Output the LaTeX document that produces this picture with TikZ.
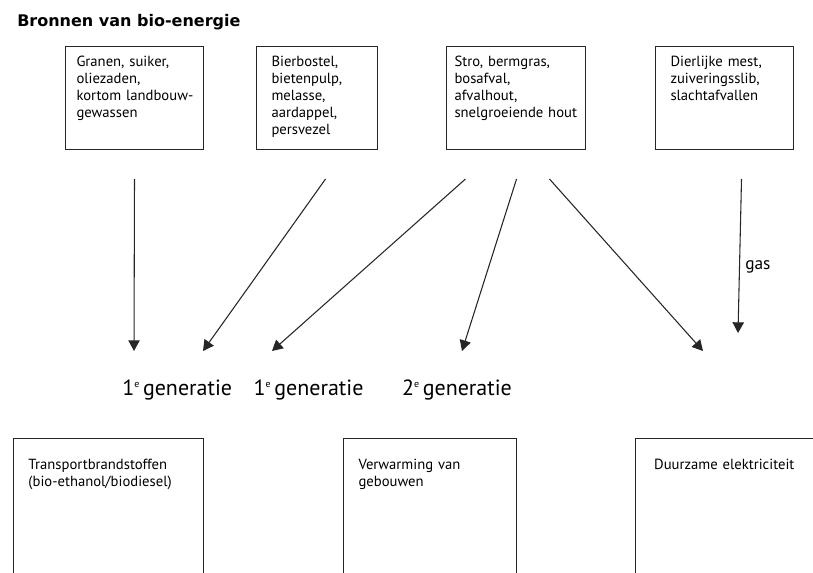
\documentclass[tikz,border=0pt]{standalone}
\usepackage{fontspec}
\setmainfont{PT Sans}
\newfontfamily\titlefont{DejaVu Sans}
\usetikzlibrary{positioning,arrows.meta}
\tikzset{
    srcbox/.style={
        draw=black!85,line width=.75pt,anchor=north west,align=left,
        font=\fontsize{11}{12.75}\selectfont,
        text height=8pt,text depth=55.25pt,inner ysep=7pt
    },
    usebox/.style={
        draw=black!85,line width=.75pt,align=left,
        font=\fontsize{11}{12.75}\selectfont,
        text height=8pt,text depth=71.5pt,inner ysep=15.25pt,inner xsep=11.25pt
    },
    genlabel/.style={
        font=\fontsize{16.5}{19}\selectfont,inner sep=0pt
    },
    flow/.style={
        ->,draw=black!85,line width=.8pt
    }
}
\newcommand{\gensup}{\raisebox{5.5pt}{\fontsize{7.5}{8}\selectfont e}}

\begin{document}
\begin{tikzpicture}[>={Triangle[length=8pt,width=8.5pt]}]
\clip (0,0) rectangle (609.75pt,-429pt);
\node[anchor=base west,inner sep=0pt,font=\titlefont\bfseries\fontsize{12}{14}\selectfont] (title) at (12.75pt,-20pt) {Bronnen van bio-energie};
% bronnen
\node[srcbox,text width=87pt,inner xsep=8.25pt] (granen) at (48.75pt,-34.5pt) {Granen, suiker,\\oliezaden,\\\mbox{kortom landbouw-}\\gewassen};
\node[srcbox,text width=68.25pt,inner xsep=11.25pt,right=39pt of granen] (bierbostel) {Bierbostel,\\bietenpulp,\\melasse,\\aardappel,\\persvezel};
\node[srcbox,text width=92.25pt,inner xsep=6pt,right=51pt of bierbostel] (stro) {Stro, bermgras,\\bosafval,\\afvalhout,\\\mbox{snelgroeiende hout}};
\node[srcbox,text width=81pt,inner xsep=11.25pt,right=51.75pt of stro] (mest) {Dierlijke mest,\\zuiveringsslib,\\slachtafvallen};
% toepassingen
\node[usebox,text width=120pt,anchor=north west] (transport) at (9.75pt,-328.5pt) {Transportbrandstoffen\\(bio-ethanol/biodiesel)};
\node[usebox,text width=107.25pt,right=104.25pt of transport] (verwarming) {Verwarming van\\gebouwen};
\node[usebox,text width=172pt,inner xsep=14pt,right=88.5pt of verwarming] (elektriciteit) {Duurzame elektriciteit};
% generaties
\node[genlabel,anchor=base west] (gen1a) at (91.5pt,-296.25pt) {1\gensup\,generatie};
\node[genlabel,base right=15.75pt of gen1a] (gen1b) {1\gensup\,generatie};
\node[genlabel,base right=28.5pt of gen1b] (gen2) {2\gensup\,generatie};
\node[anchor=mid west,inner sep=0pt,font=\fontsize{13}{15}\selectfont] (gas) at (558.75pt,-199.5pt) {gas};
% pijlen
\coordinate (granenuit) at ([yshift=-21.75pt]granen.south);
\coordinate (bieruit) at ([xshift=6.4pt,yshift=-21.75pt]bierbostel.south);
\coordinate (strouit1) at ([xshift=-37.9pt,yshift=-21.75pt]stro.south);
\coordinate (strouit2) at ([xshift=.4pt,yshift=-21.75pt]stro.south);
\coordinate (strouit3) at ([xshift=25.1pt,yshift=-21.75pt]stro.south);
\coordinate (mestuit) at ([xshift=12.75pt,yshift=-21.75pt]mest.south);
\coordinate (granenpunt) at (100.5pt,-263.25pt);
\coordinate (bierpunt) at (152.25pt,-263.25pt);
\coordinate (stropunt1) at (204pt,-263.25pt);
\coordinate (stropunt2) at (346.5pt,-263.25pt);
\coordinate (stropunt3) at (527.25pt,-263.25pt);
\coordinate (mestpunt) at (553.5pt,-249.75pt);
\draw[flow] (granenuit) -- (granenpunt);
\draw[flow] (bieruit) -- (bierpunt);
\draw[flow] (strouit1) -- (stropunt1);
\draw[flow] (strouit2) -- (stropunt2);
\draw[flow] (strouit3) -- (stropunt3);
\draw[flow] (mestuit) -- (mestpunt);
\end{tikzpicture}
\end{document}
